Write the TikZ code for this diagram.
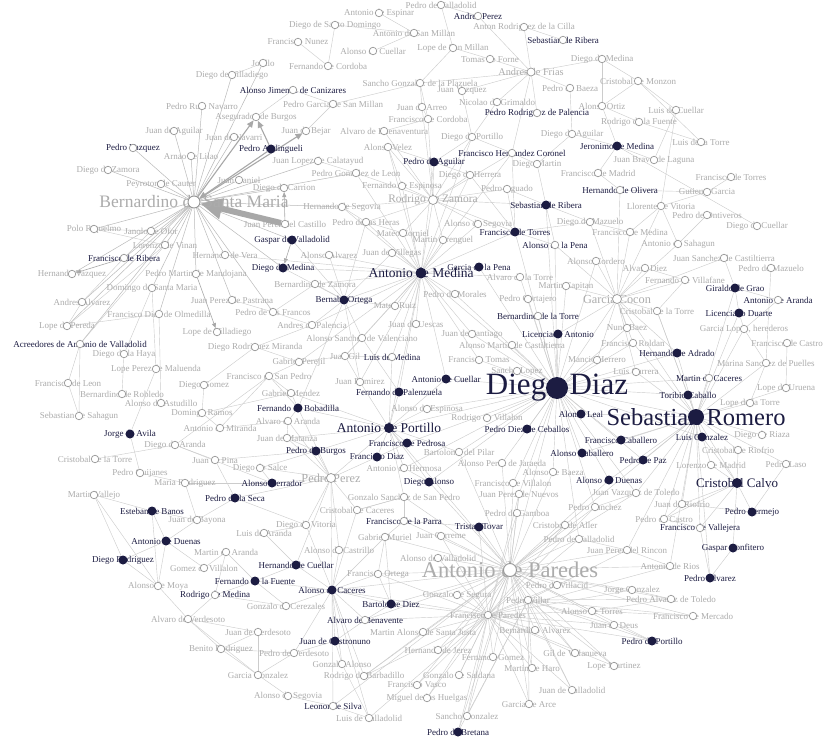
\documentclass[tikz,border=0pt]{standalone}
\usepackage{fontspec}
\setmainfont{Liberation Serif}
\usetikzlibrary{arrows.meta}
\pgfdeclarelayer{bg}
\pgfdeclarelayer{edgelayer}
\pgfsetlayers{bg,edgelayer,main}
\definecolor{navy}{RGB}{28,28,66}
\definecolor{labgray}{RGB}{172,172,172}
\definecolor{nodegray}{RGB}{150,150,150}
\definecolor{edgegray}{RGB}{204,204,204}
\definecolor{bedgegray}{RGB}{186,186,186}
\definecolor{arrgray}{RGB}{168,168,168}
\tikzset{
  gc/.style={circle,draw=nodegray,fill=white,line width=0.7pt,minimum size=7.5pt,inner sep=0pt},
  dc/.style={circle,fill=navy,minimum size=9pt,inner sep=0pt},
  gl/.style={inner sep=0pt,text=labgray,font=\fontsize{9}{10}\selectfont},
  dl/.style={inner sep=0pt,text=navy,font=\fontsize{9}{10}\selectfont},
  edge/.style={draw=edgegray,line width=0.42pt},
  bedge/.style={draw=bedgegray,line width=0.5pt},
  arr/.style={draw=arrgray,line width=1.1pt,-{Triangle[length=7pt,width=6pt]}},
  thinarr/.style={draw=arrgray,line width=0.6pt,-{Triangle[length=5pt,width=4pt]}},
}
% each person is drawn twice: first its name, then its circle on top
\newif\iflabelpass
\newcommand\person[6]{\iflabelpass\node[#5] (#1-t) at (#2,#3) {#6};\else\node[#4] (#1) at (#2,#3) {};\fi}
\newcommand\grayp[4]{\person{#1}{#2}{#3}{gc}{gl}{#4}}
\newcommand\darkp[4]{\person{#1}{#2}{#3}{dc}{dl}{#4}}
\newcommand\openp[4]{\person{#1}{#2}{#3}{gc}{dl}{#4}}
\newcommand\peoplelist{%
\person{bsm}{194}{202}{gc,minimum size=12pt,line width=0.9pt}{gl,font=\fontsize{17.5}{18}\selectfont}{Bernardino de Santa Maria}%
\person{amedina}{421}{273}{dc,minimum size=11pt}{dl,font=\fontsize{13.5}{14}\selectfont}{Antonio de Medina}%
\person{ddiaz}{557}{388}{dc,minimum size=22pt}{dl,font=\fontsize{31}{32}\selectfont}{Diego Diaz}%
\person{sromero}{696}{417}{dc,minimum size=16pt}{dl,font=\fontsize{24.5}{25}\selectfont}{Sebastian Romero}%
\person{aparedes}{510}{570}{gc,minimum size=13pt,line width=0.9pt}{gl,font=\fontsize{22.5}{23}\selectfont}{Antonio de Paredes}%
\person{aportillo}{389}{428}{dc,minimum size=10pt}{dl,font=\fontsize{13.5}{14}\selectfont}{Antonio de Portillo}%
\person{ccalvo}{737}{483}{dc,minimum size=10pt}{dl,font=\fontsize{13}{14}\selectfont}{Cristobal Calvo}%
\person{gcocon}{617}{299}{gc,minimum size=9pt}{gl,font=\fontsize{12.3}{13}\selectfont}{Garcia Cocon}%
\person{pperez}{331}{478}{gc,minimum size=9pt}{gl,font=\fontsize{12.3}{13}\selectfont}{Pedro Perez}%
\person{rzamora}{433}{200}{gc,minimum size=9pt}{gl,font=\fontsize{11.4}{12}\selectfont}{Rodrigo de Zamora}%
\person{afrias}{531}{72}{gc,minimum size=8pt}{gl,font=\fontsize{10.3}{11}\selectfont}{Andres de Frias}%
\grayp{pval1}{441}{5}{Pedro de Valladolid}%
\openp{aperez}{478}{16}{Andres Perez}%
\grayp{aespinar}{379}{13}{Antonio de Espinar}%
\grayp{dsd}{335}{25}{Diego de Santo Domingo}%
\grayp{arcilla}{524}{27}{Anton Rodriguez de la Cilla}%
\grayp{asanmillan}{414}{33}{Antonio de San Millan}%
\openp{sribera1}{563}{40}{Sebastian de Ribera}%
\grayp{fnunez}{298}{42}{Francisco Nunez}%
\grayp{lsanmillan}{453}{48}{Lope de San Millan}%
\grayp{acuellar}{373}{51}{Alonso de Cuellar}%
\grayp{tforne}{490}{59}{Tomas de Forne}%
\grayp{dmedina2}{602}{59}{Diego de Medina}%
\grayp{jorillo}{263}{63}{Jorillo}%
\grayp{fcordoba}{328}{66}{Fernando de Cordoba}%
\grayp{dvilladiego}{232}{75}{Diego de Villadiego}%
\grayp{cmonzon}{638}{81}{Cristobal de Monzon}%
\grayp{sgplazuela}{420}{83}{Sancho Gonzalez de la Plazuela}%
\grayp{pbaeza}{570}{88}{Pedro de Baeza}%
\openp{ajimenez}{293}{90}{Alonso Jimenez de Canizares}%
\grayp{jvazquez}{462}{91}{Juan Vazquez}%
\grayp{nicolao}{497}{102}{Nicolao de Grimaldo}%
\grayp{pgsanmillan}{333}{104}{Pedro Garcia de San Millan}%
\grayp{pruiz}{202}{106}{Pedro Ruiz Navarro}%
\grayp{aortiz}{602}{106}{Alonso Ortiz}%
\grayp{jarreo}{422}{107}{Juan de Arreo}%
\grayp{lcuellar}{676}{110}{Luis de Cuellar}%
\openp{prpalencia}{537}{113}{Pedro Rodriguez de Palencia}%
\grayp{aseg}{256}{117}{Asegurados de Burgos}%
\grayp{fcordoba2}{428}{119}{Francisco de Cordoba}%
\grayp{rfuente}{639}{122}{Rodrigo de la Fuente}%
\grayp{jaguilar}{174}{131}{Juan de Aguilar}%
\grayp{bejar}{306}{131}{Juan de Bejar}%
\grayp{abuenaventura}{384}{131}{Alvaro de Buenaventura}%
\grayp{daguilar}{572}{134}{Diego de Aguilar}%
\grayp{dportillo}{472}{137}{Diego de Portillo}%
\grayp{jnavarri}{234}{137}{Juan de Navarri}%
\grayp{ltorre}{701}{142}{Luis de la Torre}%
\darkp{jmedina}{617}{146}{Jeronimo de Medina}%
\grayp{avelez}{388}{147}{Alonso Velez}%
\openp{pvazquez}{133}{148}{Pedro Vazquez}%
\darkp{pand}{271}{149}{Pedro Andingueli}%
\openp{fhcoronel}{512}{153}{Francisco Hernandez Coronel}%
\grayp{arnao}{191}{156}{Arnao de Lilao}%
\grayp{jbravo}{654}{160}{Juan Bravo de Laguna}%
\grayp{jlcalatayud}{318}{161}{Juan Lopez de Calatayud}%
\darkp{paguilar}{434}{162}{Pedro de Aguilar}%
\grayp{dmartin}{537}{164}{Diego Martin}%
\grayp{dzamora}{108}{170}{Diego de Zamora}%
\grayp{pgleon}{356}{173}{Pedro Gonzalez de Leon}%
\grayp{fmadrid}{598}{173}{Francisco de Madrid}%
\grayp{dherrera}{470}{175}{Diego de Herrera}%
\grayp{ftorres2}{731}{177}{Francisco de Torres}%
\grayp{jdaniel}{239}{180}{Juan Daniel}%
\grayp{peyroton}{161}{184}{Peyroton de Cauter}%
\grayp{fespinosa}{402}{186}{Fernando de Espinosa}%
\grayp{dcarrion}{284}{188}{Diego de Carrion}%
\grayp{paguado}{507}{189}{Pedro Aguado}%
\openp{holivera}{620}{190}{Hernando de Olivera}%
\grayp{ggarcia}{707}{192}{Gutierre Garcia}%
\darkp{sribera2}{546}{205}{Sebastian de Ribera}%
\grayp{llorente}{661}{206}{Llorente de Vitoria}%
\grayp{hsegovia}{342}{207}{Hernando de Segovia}%
\grayp{pontiveros}{707}{215}{Pedro de Ontiveros}%
\grayp{pheras}{366}{222}{Pedro de las Heras}%
\grayp{dmazuelo}{590}{222}{Diego de Mazuelo}%
\grayp{jpcastillo}{285}{224}{Juan Perez del Castillo}%
\grayp{asegovia1}{478}{224}{Alonso de Segovia}%
\grayp{dcuellar}{757}{226}{Diego de Cuellar}%
\grayp{polo}{94}{229}{Polo Riquelmo}%
\grayp{janolo}{151}{231}{Janolo de Ofor}%
\grayp{fmedina}{630}{232}{Francisco de Medina}%
\darkp{ftorres}{515}{232}{Francisco de Torres}%
\grayp{mcorniel}{403}{233}{Mateo Corniel}%
\darkp{gaspar}{292}{240}{Gaspar de Valladolid}%
\grayp{marenguel}{443}{240}{Martin Arenguel}%
\grayp{asahagun}{678}{244}{Antonio de Sahagun}%
\grayp{lvinan}{165}{245}{Lorenzo de Vinan}%
\openp{apena}{555}{245}{Alonso de la Pena}%
\grayp{hvera}{225}{255}{Hernando de Vera}%
\grayp{aalvarez}{329}{255}{Alonso Alvarez}%
\grayp{jvillegas}{392}{253}{Juan de Villegas}%
\openp{fribera}{124}{258}{Francisco de Ribera}%
\grayp{jscastiltierra}{724}{258}{Juan Sanchez de Castiltierra}%
\grayp{acordero}{596}{261}{Alonso Cordero}%
\darkp{gpena}{479}{267}{Garcia de la Pena}%
\darkp{dmedina}{283}{268}{Diego de Medina}%
\grayp{adiez}{645}{268}{Alvaro Diez}%
\grayp{pmazuelo}{771}{268}{Pedro de Mazuelo}%
\grayp{hvazquez}{72}{274}{Hernando Vazquez}%
\grayp{pmandojana}{196}{274}{Pedro Martin de Mandojana}%
\grayp{atorre}{520}{277}{Alvaro de la Torre}%
\grayp{fvillafane}{685}{280}{Fernando de Villafane}%
\grayp{bzamora}{315}{284}{Bernardino de Zamora}%
\grayp{mcapitan}{566}{286}{Martin Capitan}%
\grayp{dsmaria}{152}{288}{Domingo de Santa Maria}%
\darkp{ggrao}{735}{288}{Giraldo de Grao}%
\grayp{pmorales}{455}{294}{Pedro de Morales}%
\grayp{pcortajero}{528}{299}{Pedro Cortajero}%
\darkp{bortega}{344}{300}{Bernabe Ortega}%
\grayp{jppastrana}{232}{300}{Juan Perez de Pastrana}%
\openp{aaranda}{778}{300}{Antonio de Aranda}%
\grayp{aalvarez2}{82}{302}{Andres Alvarez}%
\grayp{mruiz}{395}{306}{Mateo Ruiz}%
\grayp{ctorre2}{657}{311}{Cristobal de la Torre}%
\grayp{pfrancos}{273}{312}{Pedro de los Francos}%
\darkp{lduarte}{739}{313}{Licenciado Duarte}%
\grayp{fdolmedilla}{159}{314}{Francisco Diaz de Olmedilla}%
\openp{btorre}{538}{316}{Bernardino de la Torre}%
\grayp{jaguescas}{416}{324}{Juan de Uescas}%
\grayp{apalencia}{312}{325}{Andres de Palencia}%
\grayp{lpereda}{67}{326}{Lope de Pereda}%
\grayp{nbaez}{627}{328}{Nuno Baez}%
\grayp{glopez}{744}{329}{Garcia Lopez, herederos}%
\grayp{lvilladiego}{217}{332}{Lope de Villadiego}%
\grayp{jsantiago}{472}{334}{Juan de Santiago}%
\darkp{lantonio}{558}{334}{Licenciado Antonio}%
\grayp{asvalenciano}{362}{338}{Alonso Sanchez de Valenciano}%
\grayp{froldan}{633}{343}{Francisco Roldan}%
\grayp{fcastro}{787}{343}{Francisco de Castro}%
\openp{acreedores}{80}{344}{Acreedores de Antonio de Valladolid}%
\grayp{amcastiltierra}{512}{345}{Alonso Martin de Castiltierra}%
\grayp{drmiranda}{255}{347}{Diego Rodriguez Miranda}%
\darkp{hadrado}{677}{353}{Hernando de Adrado}%
\grayp{dhaya}{124}{354}{Diego de la Haya}%
\grayp{jgil}{345}{356}{Juan Gil}%
\openp{lmedina}{392}{357}{Luis de Medina}%
\grayp{ftomas}{479}{360}{Francisco Tomas}%
\grayp{mherrero}{597}{360}{Mancio Herrero}%
\grayp{gperejil}{299}{362}{Gabriel Perejil}%
\grayp{msanchez}{766}{363}{Marina Sanchez de Puelles}%
\grayp{lpmaluenda}{156}{369}{Lope Perez de Maluenda}%
\grayp{slopez}{517}{371}{Sancho Lopez}%
\grayp{lcarrera}{636}{372}{Luis Carrera}%
\grayp{fsanpedro}{269}{376}{Francisco de San Pedro}%
\openp{mcaceres}{709}{378}{Martin de Caceres}%
\darkp{acuellar2}{446}{379}{Antonio de Cuellar}%
\grayp{jramirez}{360}{382}{Juan Ramirez}%
\grayp{fleon}{68}{383}{Francisco de Leon}%
\grayp{dgomez}{204}{385}{Diego Gomez}%
\grayp{luruena}{786}{388}{Lope de Uruena}%
\darkp{fpalenzuela}{399}{392}{Fernando de Palenzuela}%
\grayp{gmendez}{291}{393}{Gabriel Mendez}%
\grayp{brobledo}{122}{394}{Bernardino de Robledo}%
\darkp{tcaballo}{688}{395}{Toribio Caballo}%
\grayp{astudillo}{161}{403}{Alonso de Astudillo}%
\grayp{lptorre}{750}{403}{Lope de la Torre}%
\darkp{fbobadilla}{298}{408}{Fernando de Bobadilla}%
\grayp{aespinosa}{427}{409}{Alonso de Espinosa}%
\grayp{dramos}{202}{413}{Domingo Ramos}%
\darkp{aleal}{581}{414}{Alonso Leal}%
\grayp{sahagun2}{79}{416}{Sebastian de Sahagun}%
\grayp{rvillalon}{487}{418}{Rodrigo de Villalon}%
\grayp{avaranda}{288}{421}{Alvaro de Aranda}%
\grayp{amiranda}{220}{428}{Antonio de Miranda}%
\darkp{pdceballos}{527}{429}{Pedro Diez de Ceballos}%
\darkp{javila}{130}{434}{Jorge de Avila}%
\grayp{driaza}{762}{435}{Diego de Riaza}%
\darkp{lgonzalez}{702}{437}{Luis Gonzalez}%
\grayp{jmatanza}{287}{438}{Juan de Matanza}%
\darkp{fcaballero}{621}{440}{Francisco Caballero}%
\darkp{fpedrosa}{407}{443}{Francisco de Pedrosa}%
\grayp{daranda}{175}{445}{Diego de Aranda}%
\grayp{criofrio}{738}{450}{Cristobal de Riofrio}%
\darkp{pburgos}{316}{451}{Pedro de Burgos}%
\grayp{bpilar}{459}{452}{Bartolome del Pilar}%
\darkp{acaballero}{582}{453}{Alonso Caballero}%
\darkp{fdiaz}{377}{457}{Francisco Diaz}%
\grayp{ctorre1}{95}{459}{Cristobal de la Torre}%
\grayp{jpina}{215}{460}{Juan de Pina}%
\darkp{ppaz}{643}{460}{Pedro de Paz}%
\grayp{apjaraeda}{502}{463}{Alonso Perez de Jaraeda}%
\grayp{lmadrid}{711}{465}{Lorenzo de Madrid}%
\grayp{plaso}{786}{464}{Pedro Laso}%
\grayp{dsalce}{260}{468}{Diego de Salce}%
\grayp{ahermosa}{404}{468}{Antonio de Hermosa}%
\grayp{abaeza}{553}{472}{Alonso de Baeza}%
\grayp{pquijanes}{140}{473}{Pedro Quijanes}%
\darkp{aduenas}{609}{480}{Alonso de Duenas}%
\darkp{dalonso}{429}{482}{Diego Alonso}%
\darkp{aherrador}{272}{483}{Alonso Herrador}%
\grayp{mrodriguez}{185}{483}{Maria Rodriguez}%
\grayp{fvillalon}{513}{483}{Francisco de Villalon}%
\grayp{jvtoledo}{636}{493}{Juan Vazquez de Toledo}%
\grayp{jpnuevos}{519}{494}{Juan Perez de Nuevos}%
\grayp{mvallejo}{94}{495}{Martin Vallejo}%
\grayp{gssanpedro}{404}{497}{Gonzalo Sanchez de San Pedro}%
\darkp{pseca}{235}{498}{Pedro de la Seca}%
\grayp{jriofrio}{682}{504}{Juan de Riofrio}%
\grayp{psanchez}{595}{507}{Pedro Sanchez}%
\grayp{ccaceres}{357}{510}{Cristobal de Caceres}%
\darkp{ebanos}{152}{511}{Esteban de Banos}%
\darkp{pbermejo}{752}{512}{Pedro Bermejo}%
\grayp{pgamboa}{517}{513}{Pedro de Gamboa}%
\grayp{pcastro}{664}{519}{Pedro de Castro}%
\grayp{jbayona}{197}{520}{Juan de Bayona}%
\openp{fparra}{404}{521}{Francisco de la Parra}%
\grayp{dvitoria}{306}{525}{Diego de Vitoria}%
\grayp{caller}{565}{525}{Cristobal de Aller}%
\darkp{ttovar}{479}{527}{Tristan Tovar}%
\openp{fvallejera}{700}{528}{Francisco de Vallejera}%
\grayp{laranda}{264}{533}{Luis de Aranda}%
\grayp{jcabreme}{441}{536}{Juan Carreme}%
\grayp{gmuriel}{385}{537}{Gabriel Muriel}%
\grayp{pval2}{579}{539}{Pedro de Valladolid}%
\darkp{aduenas2}{166}{541}{Antonio de Duenas}%
\darkp{gconfitero}{733}{548}{Gaspar Confitero}%
\grayp{acastrillo}{339}{550}{Alonso de Castrillo}%
\grayp{jprincon}{627}{550}{Juan Perez del Rincon}%
\grayp{maranda}{226}{552}{Martin de Aranda}%
\grayp{avalladolid}{438}{558}{Alonso de Valladolid}%
\darkp{drodriguez}{123}{560}{Diego Rodriguez}%
\darkp{hcuellar}{296}{565}{Hernando de Cuellar}%
\grayp{arios}{670}{566}{Antonio de Rios}%
\grayp{gvillalon}{204}{568}{Gomez de Villalon}%
\grayp{fortega}{378}{574}{Francisco Ortega}%
\darkp{palvarez}{710}{578}{Pedro Alvarez}%
\darkp{ffuente}{255}{581}{Fernando de la Fuente}%
\grayp{pvillacid}{557}{585}{Pedro de Villacid}%
\grayp{amoya}{158}{586}{Alonso de Moya}%
\darkp{acaceres}{332}{590}{Alonso de Caceres}%
\grayp{jgonzalez}{632}{590}{Jorge Gonzalez}%
\grayp{gsegura}{457}{595}{Gonzalo de Segura}%
\openp{rmedina}{215}{595}{Rodrigo de Medina}%
\grayp{patoledo}{671}{599}{Pedro Alvarez de Toledo}%
\grayp{pvillar}{528}{600}{Pedro Villar}%
\darkp{bdiez}{391}{604}{Bartolome Diez}%
\grayp{gcerezales}{286}{606}{Gonzalo de Cerezales}%
\grayp{atorres}{592}{611}{Alonso de Torres}%
\grayp{fparedes}{488}{615}{Francisco de Paredes}%
\grayp{fmercado}{693}{616}{Francisco de Mercado}%
\grayp{averdesoto}{188}{619}{Alvaro de Verdesoto}%
\openp{abenavente}{365}{620}{Alvaro de Benavente}%
\grayp{jdeus}{614}{625}{Juan de Deus}%
\grayp{balvarez}{535}{630}{Bernardino Alvarez}%
\grayp{jverdesoto}{258}{632}{Juan de Verdesoto}%
\grayp{masjusta}{423}{632}{Martin Alonso de Santa Justa}%
\darkp{jcastronuno}{335}{641}{Juan de Castronuno}%
\darkp{pportillo}{652}{641}{Pedro de Portillo}%
\grayp{brodriguez}{221}{649}{Benito Rodriguez}%
\grayp{hjerez}{438}{650}{Hernando de Jerez}%
\grayp{gvillanueva}{575}{653}{Gil de Villanueva}%
\grayp{pverdesoto}{294}{653}{Pedro de Verdesoto}%
\grayp{fgomez}{493}{657}{Fernando Gomez}%
\grayp{galonso}{342}{664}{Gonzalo Alonso}%
\grayp{lmartinez}{614}{666}{Lope Martinez}%
\grayp{mharo}{532}{668}{Martin de Haro}%
\grayp{ggonzalez}{258}{675}{Garcia Gonzalez}%
\grayp{rbarbadillo}{364}{676}{Rodrigo de Barbadillo}%
\grayp{gsaldana}{459}{675}{Gonzalo de Saldana}%
\grayp{fvasco}{417}{685}{Francisco Vasco}%
\grayp{jvalladolid}{572}{690}{Juan de Valladolid}%
\grayp{asegovia2}{288}{696}{Alonso de Segovia}%
\grayp{mhuelgas}{427}{698}{Miguel de las Huelgas}%
\grayp{garce}{529}{704}{Garcia de Arce}%
\openp{lsilva}{333}{706}{Leonor de Silva}%
\grayp{sgonzalez}{467}{716}{Sancho Gonzalez}%
\grayp{lvalladolid}{369}{718}{Luis de Valladolid}%
\darkp{pbretana}{458}{732}{Pedro de Bretana}%
}
\begin{document}
\begin{tikzpicture}[x=1pt,y=-1pt]
\useasboundingbox (0,0) rectangle (824,738);
\begin{pgfonlayer}{bg}\fill[white] (0,0) rectangle (824,738);\end{pgfonlayer}

% names first, circles over them
\labelpasstrue
\peoplelist
\labelpassfalse
\peoplelist

\begin{pgfonlayer}{edgelayer}
% ties of Bernardino de Santa Maria
\foreach \a/\b in {bsm/pruiz,bsm/jaguilar,bsm/arnao,bsm/peyroton,bsm/polo,bsm/janolo,bsm/lvinan,
  bsm/jnavarri,bsm/jdaniel,bsm/dcarrion,bsm/fribera,bsm/hvazquez,bsm/aalvarez2,bsm/lpereda,
  bsm/pmandojana,bsm/dsmaria,bsm/fdolmedilla,bsm/hvera,bsm/jppastrana,bsm/dvilladiego,bsm/jorillo,
  bsm/pvazquez,bsm/dzamora,bsm/gaspar,bsm/hsegovia,bsm/jlcalatayud,bsm/pgleon,bsm/acreedores,
  bsm/dmedina,bsm/pfrancos}
  \draw[bedge] (\a) -- (\b);
\draw[arr] (pand) -- (bsm);
\draw[arr] (bsm) -- (aseg);
\draw[arr] (pand) -- (aseg);
\draw[arr] (bsm) -- (bejar);
\draw[thinarr] (jpcastillo) -- (dcarrion);
\draw[thinarr] (pmandojana) -- (lvilladiego);
\draw[thinarr] (gaspar) -- (dmedina);
\draw[thinarr] (fribera) -- (hvazquez);
\draw[draw=arrgray,line width=6pt,-{Triangle[length=22pt,width=20pt]}] (jpcastillo) -- (bsm);

% all other ties
\foreach \a/\b in {
  lpereda/fdolmedilla,acreedores/fleon,acreedores/sahagun2,acreedores/lvinan,dhaya/brobledo,
  fdolmedilla/astudillo,aalvarez2/fribera,lpereda/lvinan,fleon/sahagun2,dsmaria/dhaya,
  lpmaluenda/dsmaria,fribera/janolo,polo/lvinan,polo/janolo,aalvarez2/lpereda,
  javila/pquijanes,javila/lpmaluenda,dgomez/dramos,dramos/amiranda,dgomez/drmiranda,daranda/jpina,
  daranda/aherrador,daranda/fsanpedro,amiranda/fsanpedro,jpina/pburgos,mrodriguez/aherrador,
  ctorre1/daranda,dramos/gmendez,amiranda/avaranda,jpina/pseca,pquijanes/mrodriguez,
  mvallejo/ebanos,mvallejo/drodriguez,mvallejo/amoya,ebanos/aduenas2,ebanos/amoya,aduenas2/amoya,
  drodriguez/amoya,drodriguez/aduenas2,jbayona/aduenas2,jbayona/ebanos,jbayona/mrodriguez,
  jbayona/pseca,gvillalon/aduenas2,rmedina/averdesoto,rmedina/ffuente,rmedina/maranda,
  averdesoto/brodriguez,averdesoto/ggonzalez,brodriguez/ggonzalez,jverdesoto/ggonzalez,
  pverdesoto/ggonzalez,brodriguez/jverdesoto,brodriguez/pverdesoto,averdesoto/jverdesoto,
  maranda/ffuente,laranda/hcuellar,maranda/gvillalon,ffuente/gcerezales,ffuente/hcuellar,
  ffuente/acaceres,asegovia2/lsilva,ggonzalez/asegovia2,pverdesoto/jcastronuno,rmedina/gcerezales,
  amoya/averdesoto,
  acaceres/hcuellar,acaceres/dvitoria,acaceres/acastrillo,acaceres/ccaceres,acaceres/jcastronuno,
  acaceres/abenavente,acaceres/galonso,acaceres/lsilva,acaceres/bdiez,acaceres/gcerezales,
  acaceres/fortega,acaceres/gmuriel,acaceres/rbarbadillo,acaceres/lvalladolid,acaceres/pperez,
  acaceres/aparedes,acaceres/fparedes,acaceres/pverdesoto,jcastronuno/galonso,jcastronuno/abenavente,
  abenavente/bdiez,abenavente/fparedes,dvitoria/pseca,dvitoria/laranda,ccaceres/gssanpedro,
  gmuriel/fortega,gmuriel/bdiez,fortega/bdiez,rbarbadillo/masjusta,lvalladolid/galonso,lsilva/lvalladolid,
  pperez/pburgos,pperez/fdiaz,pperez/aherrador,pperez/dsalce,pperez/jmatanza,pperez/avaranda,
  pperez/ccaceres,pperez/dvitoria,pperez/pseca,pperez/hcuellar,pperez/aportillo,pperez/fbobadilla,
  pperez/acastrillo,
  aportillo/fpalenzuela,aportillo/fpedrosa,aportillo/fdiaz,aportillo/pburgos,aportillo/jramirez,
  aportillo/ahermosa,aportillo/acuellar2,aportillo/lmedina,aportillo/dalonso,aportillo/aespinosa,
  aportillo/bpilar,aportillo/fbobadilla,aportillo/gmendez,aportillo/jmatanza,aportillo/ddiaz,
  aportillo/amedina,aportillo/gssanpedro,aportillo/aparedes,
  fbobadilla/gmendez,fbobadilla/fsanpedro,fbobadilla/avaranda,gperejil/fsanpedro,gperejil/drmiranda,
  gperejil/jgil,gmendez/fsanpedro,jramirez/jgil,drmiranda/apalencia,pfrancos/apalencia,
  pfrancos/jppastrana,pfrancos/bzamora,jgil/lmedina,asvalenciano/jgil,asvalenciano/fpalenzuela,
  avaranda/jmatanza,pburgos/jmatanza,pburgos/dsalce,fdiaz/fpedrosa,dsalce/aherrador,ahermosa/dalonso,
  amedina/bortega,amedina/rzamora,amedina/gpena,amedina/mcorniel,amedina/marenguel,amedina/pheras,
  amedina/aalvarez,amedina/jvillegas,amedina/bzamora,amedina/apalencia,amedina/mruiz,
  amedina/jaguescas,amedina/asvalenciano,amedina/jgil,amedina/lmedina,amedina/pmorales,
  amedina/ftorres,amedina/ddiaz,amedina/asegovia1,amedina/paguilar,amedina/hsegovia,amedina/dmedina,
  amedina/jsantiago,amedina/hvera,amedina/gperejil,amedina/fespinosa,amedina/dherrera,amedina/avelez,
  amedina/acuellar2,amedina/fpalenzuela,amedina/dportillo,amedina/fhcoronel,amedina/jramirez,
  amedina/pgleon,amedina/ftomas,amedina/atorre,
  bortega/dmedina,bortega/bzamora,bortega/apalencia,bortega/aalvarez,bortega/asvalenciano,
  bortega/mruiz,bortega/jramirez,bortega/fbobadilla,bortega/pheras,bortega/jvillegas,bortega/gaspar,
  rzamora/paguilar,rzamora/dherrera,rzamora/fespinosa,rzamora/avelez,rzamora/dportillo,
  rzamora/paguado,rzamora/abuenaventura,rzamora/pgleon,rzamora/fcordoba2,rzamora/jarreo,
  rzamora/hsegovia,rzamora/mcorniel,rzamora/sribera2,rzamora/ftorres,rzamora/fhcoronel,
  rzamora/pheras,rzamora/marenguel,rzamora/asegovia1,
  dsd/fcordoba,fnunez/fcordoba,aespinar/asanmillan,acuellar/asanmillan,dsd/asanmillan,
  lsanmillan/sgplazuela,sgplazuela/pgsanmillan,sgplazuela/afrias,sgplazuela/jarreo,
  sgplazuela/fcordoba2,jarreo/fcordoba2,fcordoba2/abuenaventura,jvazquez/dportillo,nicolao/dportillo,
  nicolao/afrias,dportillo/fhcoronel,dportillo/paguilar,pval1/aperez,pval1/lsanmillan,aperez/afrias,
  lsanmillan/tforne,arcilla/afrias,arcilla/sribera1,tforne/afrias,jvazquez/afrias,pbaeza/afrias,
  pbaeza/daguilar,prpalencia/afrias,afrias/dmedina2,afrias/fhcoronel,dmedina2/cmonzon,dmedina2/aortiz,
  aortiz/jmedina,daguilar/jmedina,daguilar/dmartin,fhcoronel/dmartin,dmartin/sribera2,
  fhcoronel/ftorres,paguado/ftorres,paguado/sribera2,dherrera/ftorres,dherrera/paguilar,
  ajimenez/aseg,ajimenez/pgsanmillan,jorillo/dvilladiego,pgsanmillan/bejar,avelez/paguilar,
  avelez/fespinosa,jlcalatayud/pgleon,hsegovia/pheras,pheras/mcorniel,
  cmonzon/aortiz,cmonzon/lcuellar,cmonzon/ltorre,rfuente/ltorre,rfuente/aortiz,lcuellar/jbravo,
  lcuellar/llorente,jmedina/dcuellar,jmedina/fmadrid,jbravo/jmedina,ftorres2/ggarcia,ggarcia/holivera,
  pontiveros/asahagun,llorente/asahagun,llorente/fmedina,holivera/fmadrid,dmazuelo/fmedina,
  dmazuelo/sribera2,fmedina/gcocon,asahagun/gcocon,holivera/gcocon,apena/gcocon,apena/ftorres,
  apena/sribera2,dmazuelo/ftorres,ggarcia/llorente,
  gcocon/adiez,gcocon/fvillafane,gcocon/ctorre2,gcocon/nbaez,gcocon/froldan,gcocon/llorente,
  gcocon/mherrero,gcocon/acordero,gcocon/lcarrera,gcocon/hadrado,gcocon/jscastiltierra,
  gcocon/dmazuelo,gcocon/ddiaz,gcocon/mcapitan,gcocon/lantonio,gcocon/sromero,
  jscastiltierra/ggrao,pmazuelo/msanchez,ggrao/lduarte,ggrao/aaranda,lduarte/glopez,glopez/msanchez,
  fcastro/luruena,fvillafane/ctorre2,ctorre2/tcaballo,msanchez/lptorre,aaranda/glopez,adiez/fvillafane,
  ddiaz/lantonio,ddiaz/btorre,ddiaz/mherrero,ddiaz/slopez,ddiaz/ftomas,ddiaz/amcastiltierra,
  ddiaz/jsantiago,ddiaz/pcortajero,ddiaz/atorre,ddiaz/mcapitan,ddiaz/aleal,ddiaz/pdceballos,
  ddiaz/acaballero,ddiaz/aduenas,ddiaz/abaeza,ddiaz/aparedes,ddiaz/fcaballero,ddiaz/sromero,
  ddiaz/rvillalon,ddiaz/aespinosa,ddiaz/acuellar2,ddiaz/lcarrera,ddiaz/nbaez,ddiaz/froldan,
  ddiaz/gpena,ddiaz/apena,ddiaz/apjaraeda,ddiaz/fvillalon,ddiaz/ppaz,ddiaz/hadrado,ddiaz/tcaballo,
  ddiaz/mcaceres,ddiaz/bpilar,ddiaz/dalonso,ddiaz/lgonzalez,ddiaz/pmorales,ddiaz/sribera2,
  ddiaz/ftorres,ddiaz/acordero,ddiaz/pval2,ddiaz/jpnuevos,ddiaz/fpedrosa,ddiaz/ahermosa,
  ddiaz/jvtoledo,ddiaz/psanchez,
  sromero/tcaballo,sromero/mcaceres,sromero/hadrado,sromero/lduarte,sromero/ggrao,sromero/lgonzalez,
  sromero/ccalvo,sromero/ppaz,sromero/lmadrid,sromero/criofrio,sromero/fcaballero,sromero/lptorre,
  sromero/driaza,sromero/jvtoledo,sromero/lcarrera,sromero/ctorre2,sromero/glopez,
  sromero/fvallejera,sromero/jriofrio,sromero/pcastro,sromero/aduenas,sromero/acaballero,
  sromero/aleal,sromero/msanchez,sromero/luruena,sromero/plaso,sromero/palvarez,sromero/jprincon,
  sromero/arios,sromero/aparedes,sromero/froldan,
  ccalvo/pbermejo,ccalvo/fvallejera,ccalvo/gconfitero,ccalvo/jriofrio,ccalvo/lmadrid,
  ccalvo/criofrio,ccalvo/pcastro,ccalvo/lgonzalez,gconfitero/palvarez,fvallejera/palvarez,
  pbermejo/jriofrio,pbermejo/plaso,fvallejera/pcastro,jriofrio/pcastro,
  aparedes/pbretana,aparedes/sgonzalez,aparedes/garce,aparedes/jvalladolid,aparedes/mharo,
  aparedes/fgomez,aparedes/gvillanueva,aparedes/lmartinez,aparedes/balvarez,aparedes/jdeus,
  aparedes/atorres,aparedes/pvillar,aparedes/fparedes,aparedes/gsegura,aparedes/pvillacid,
  aparedes/jgonzalez,aparedes/jprincon,aparedes/pval2,aparedes/caller,aparedes/psanchez,
  aparedes/pgamboa,aparedes/jpnuevos,aparedes/ttovar,aparedes/jcabreme,aparedes/avalladolid,
  aparedes/masjusta,aparedes/hjerez,aparedes/gsaldana,aparedes/fvasco,aparedes/mhuelgas,
  aparedes/dalonso,aparedes/fvillalon,aparedes/apjaraeda,aparedes/abaeza,aparedes/aduenas,
  aparedes/jvtoledo,aparedes/arios,aparedes/patoledo,aparedes/pportillo,aparedes/fmercado,
  aparedes/gssanpedro,aparedes/bdiez,aparedes/abenavente,aparedes/gmuriel,aparedes/fortega,
  aparedes/fparra,aparedes/bpilar,aparedes/lsilva,aparedes/rbarbadillo,
  fparedes/pbretana,fparedes/sgonzalez,fparedes/garce,fparedes/mhuelgas,fparedes/fvasco,
  fparedes/gsaldana,fparedes/hjerez,fparedes/masjusta,fparedes/gsegura,fparedes/pvillar,
  fparedes/balvarez,fparedes/fgomez,fparedes/mharo,fparedes/avalladolid,fparedes/jcabreme,
  fparedes/ttovar,fparedes/pgamboa,fparedes/jpnuevos,fparedes/psanchez,fparedes/caller,
  fparedes/pval2,fparedes/jvalladolid,fparedes/gvillanueva,fparedes/lmartinez,fparedes/jdeus,
  fparedes/atorres,fparedes/pvillacid,fparedes/bdiez,fparedes/fortega,fparedes/jgonzalez,
  fparedes/arios,fparedes/pportillo,fparedes/lvalladolid,fparedes/rbarbadillo,
  pvillar/pbretana,pvillar/sgonzalez,pvillar/garce,pvillar/jvalladolid,pvillar/mharo,
  pvillar/gvillanueva,pvillar/lmartinez,pvillar/jdeus,pvillar/pportillo,pvillar/fmercado,
  pvillar/patoledo,pvillar/jprincon,
  atorres/fmercado,atorres/patoledo,jgonzalez/patoledo,arios/jprincon,jprincon/pval2,pportillo/jdeus,
  jvtoledo/psanchez,ttovar/fparra,fparra/gmuriel,fparra/gssanpedro,gssanpedro/ccaceres,jpnuevos/pgamboa}
  \draw[edge] (\a) -- (\b);
\end{pgfonlayer}
\end{tikzpicture}
\end{document}
